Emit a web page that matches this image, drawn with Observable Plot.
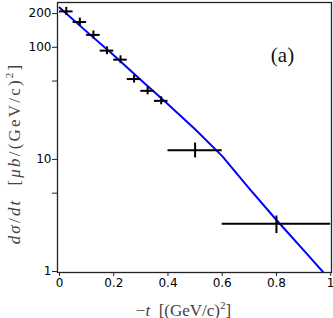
<!DOCTYPE html>
<html>
<head>
<meta charset="utf-8">
<script src="https://cdn.jsdelivr.net/npm/d3@7"></script>
<script src="https://cdn.jsdelivr.net/npm/@observablehq/plot@0.6"></script>
<style>
  html, body { margin: 0; padding: 0; background: white; }
</style>
</head>
<body>
<div id="chart"></div>
<script>
// Measured points: -t bin centres, half widths, dσ/dt and error ends
const tCenter = [0.025, 0.075, 0.125, 0.175, 0.225, 0.275, 0.325, 0.375, 0.5, 0.8];
const tHalf   = [0.025, 0.025, 0.025, 0.025, 0.025, 0.025, 0.025, 0.025, 0.1, 0.2];
const dsdt    = [209, 168, 129, 93.4, 77.6, 52.1, 40.9, 33.3, 12.1, 2.67];
const dsdtLo  = [192, 155, 119, 86, 71.5, 48, 37.7, 30.7, 10.3, 2.18];
const dsdtHi  = [227, 182, 140, 101, 84, 56.5, 44.4, 36.2, 14.0, 3.13];

// Model curve
const curveT = [0, 0.1, 0.2, 0.3, 0.4, 0.5, 0.6, 0.7, 0.8, 0.9, 0.97, 1.0];
const curveV = [226, 138, 85, 51, 31, 18.6, 10.7, 5.5, 2.88, 1.55, 1.0, 0.82];

// Axis ticks
const xTicks = [0, 0.2, 0.4, 0.6, 0.8, 1];
const xTickLabels = ["0", "0.2", "0.4", "0.6", "0.8", "1"];
const yTicks = [1, 10, 100, 200];
const yTickLabels = ["1", "10", "100", "200"];
const yMinor = [5, 50];

const points = tCenter.map((t, i) => ({
  t, lo: t - tHalf[i], hi: t + tHalf[i], y: dsdt[i], ylo: dsdtLo[i], yhi: dsdtHi[i]
}));
const curve = curveT.map((t, i) => ({t, v: curveV[i]}));

const chart = Plot.plot({
  width: 333,
  height: 318,
  marginLeft: 57,
  marginRight: 2,
  marginTop: 2,
  marginBottom: 46,
  style: {fontFamily: "DejaVu Sans", fontSize: "12px", background: "white", color: "black"},
  x: {domain: [-0.0074, 1.003]},
  y: {type: "log", domain: [0.98, 251]},
  marks: [
    Plot.line(curve, {x: "t", y: "v", stroke: "#0000ff", strokeWidth: 2, clip: true}),
    Plot.ruleY(points, {y: "y", x1: "lo", x2: "hi", stroke: "black", strokeWidth: 2}),
    Plot.ruleX(points, {x: "t", y1: "ylo", y2: "yhi", stroke: "black", strokeWidth: 2}),
    Plot.frame({stroke: "#222", strokeWidth: 1.3}),
    Plot.axisX({ticks: xTicks, tickFormat: d => xTickLabels[xTicks.indexOf(d)], tickSize: 4, tickPadding: 2, label: null, stroke: "#222"}),
    Plot.axisY({ticks: yTicks, tickFormat: d => yTickLabels[yTicks.indexOf(d)], tickSize: 5, tickPadding: 1, label: null, stroke: "#222"}),
    Plot.axisY({ticks: yMinor, tickFormat: () => "", tickSize: 5, label: null, stroke: "#222"}),
    Plot.text(["(a)"], {text: d => d, frameAnchor: "top-right", dx: -49, dy: 53, textAnchor: "middle", lineAnchor: "middle",
      fontFamily: "Liberation Serif", fontSize: 21, fill: "#111"}),
    Plot.text(["−t [(GeV/c)2]"], {text: d => d, frameAnchor: "bottom", dx: -11, dy: 38, textAnchor: "middle", lineAnchor: "middle",
      fontFamily: "Liberation Serif", fontSize: 17, fill: "#444", className: "xlab"}),
    Plot.text(["dσ/dt [μb/(GeV/c)2]"], {text: d => d, frameAnchor: "left", dx: -43, dy: 16, rotate: -90, textAnchor: "middle", lineAnchor: "middle",
      fontFamily: "Liberation Serif", fontSize: 17, fill: "#444", className: "ylab"})
  ]
});

function styleLabel(sel, parts) {
  const t = d3.select(chart).select(sel).select("text");
  if (t.empty()) return;
  t.text(null);
  parts.forEach(p => {
    const s = t.append("tspan").text(p.s);
    if (p.i) s.attr("font-style", "italic");
    if (p.sup) s.attr("font-size", 11).attr("dy", -7);
    if (p.down) s.attr("dy", 7);
  });
}
styleLabel(".xlab", [{s: "−"}, {s: "t", i: true}, {s: "  [(GeV/c)"}, {s: "2", sup: true}, {s: "]", down: true}]);
styleLabel(".ylab", [{s: "d", i: true}, {s: "σ", i: true}, {s: "/"}, {s: "dt", i: true}, {s: "  ["}, {s: "μb", i: true}, {s: "/(GeV/c)"}, {s: "2", sup: true}, {s: "]", down: true}]);
d3.select(chart).select(".ylab text").attr("letter-spacing", "2.2px");

document.getElementById("chart").appendChild(chart);
</script>
</body>
</html>
